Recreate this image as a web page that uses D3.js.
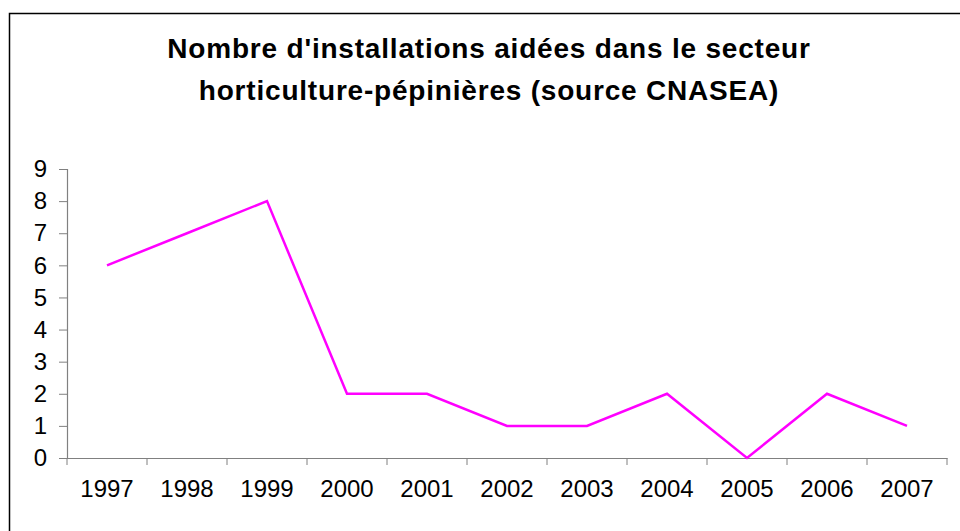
<!DOCTYPE html>
<html>
<head>
<meta charset="utf-8">
<script src="https://cdn.jsdelivr.net/npm/d3@7"></script>
<style>
    body { margin: 0; background: #fff; }
    text { font-family: Arial, "Liberation Sans", sans-serif; }
</style>
</head>
<body>
<div class="canvas"></div>
<script>
const years = ['1997', '1998', '1999', '2000', '2001', '2002', '2003', '2004', '2005', '2006', '2007'];
const installations = [6, 7, 8, 2, 2, 1, 1, 2, 0, 2, 1];
const yTicks = [0, 1, 2, 3, 4, 5, 6, 7, 8, 9];
const titleLines = [
    "Nombre d'installations aidées dans le secteur",
    "horticulture-pépinières (source CNASEA)"
];

const dims = { width: 960, height: 531 };
const plot = { left: 67, right: 947, top: 169, bottom: 458 };

const svg = d3.select('.canvas')
                .append('svg')
                .attr('width', dims.width)
                .attr('height', dims.height);

// chart frame (runs off the right and bottom edges)
svg.append('rect')
    .attr('x', 9.5)
    .attr('y', 13.5)
    .attr('width', 980)
    .attr('height', 560)
    .attr('fill', 'none')
    .attr('stroke', '#000')
    .attr('stroke-width', 1.5);

// title
svg.append('g')
    .selectAll('text')
    .data(titleLines)
    .enter()
    .append('text')
        .attr('x', 489)
        .attr('y', (d, i) => 58 + i * 42)
        .attr('text-anchor', 'middle')
        .attr('font-size', '28px')
        .attr('letter-spacing', '0.8px')
        .attr('font-weight', 'bold')
        .attr('fill', '#000')
        .text(d => d);

const x = d3.scaleBand()
            .domain(years)
            .range([plot.left, plot.right]);

const y = d3.scaleLinear()
            .domain([0, 9])
            .range([plot.bottom, plot.top]);

// y axis
const yAxis = d3.axisLeft(y)
                .tickValues(yTicks)
                .tickFormat(d3.format('d'))
                .tickSize(8)
                .tickPadding(12);

const yGroup = svg.append('g')
                .attr('transform', `translate(${plot.left}, 0)`)
                .call(yAxis);

// x axis, ticks at category boundaries
const xAxis = d3.axisBottom(x)
                .tickSize(0)
                .tickPadding(22);

const xGroup = svg.append('g')
                .attr('transform', `translate(0, ${plot.bottom})`)
                .call(xAxis);

xGroup.selectAll('.boundary')
    .data(years.concat(['end']))
    .enter()
    .append('line')
        .attr('class', 'boundary')
        .attr('x1', (d, i) => plot.left + i * x.step())
        .attr('x2', (d, i) => plot.left + i * x.step())
        .attr('y1', 0)
        .attr('y2', 7)
        .attr('stroke', '#808080');

[yGroup, xGroup].forEach(g => {
    g.selectAll('path.domain').attr('stroke', '#808080').attr('stroke-width', 1.2);
    g.selectAll('.tick line').attr('stroke', '#808080');
    g.selectAll('text')
        .attr('font-size', '24px')
        .attr('font-family', 'Arial, "Liberation Sans", sans-serif')
        .attr('fill', '#000');
});

// series line
const line = d3.line()
                .x((d, i) => x(years[i]) + x.bandwidth() / 2)
                .y(d => y(d));

svg.append('path')
    .datum(installations)
    .attr('d', line)
    .attr('fill', 'none')
    .attr('stroke', '#ff00ff')
    .attr('stroke-width', 2.5)
    .attr('stroke-linejoin', 'miter');
</script>
</body>
</html>
